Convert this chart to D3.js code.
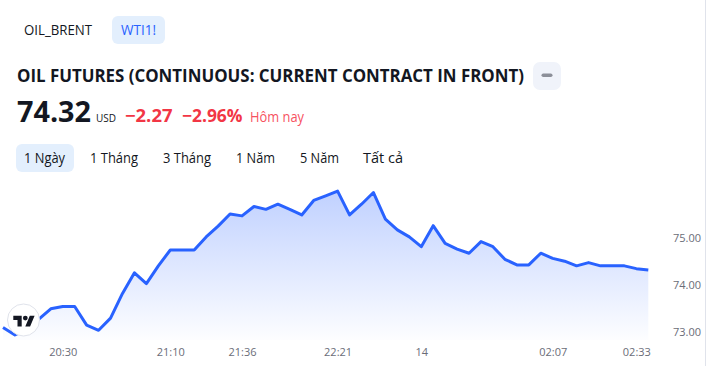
<!DOCTYPE html>
<html>
<head>
<meta charset="utf-8">
<script src="https://cdn.jsdelivr.net/npm/d3@7/dist/d3.min.js"></script>
<style>
  html, body { margin: 0; padding: 0; background: #ffffff; }
  svg { display: block; }
  text { font-family: "Open Sans", "Noto Sans", sans-serif; }
</style>
</head>
<body>
<svg id="chart" width="708" height="366"></svg>
<script>
// ---- data ----
const symbolTabs = ["OIL_BRENT", "WTI1!"];
const activeTab = 1;
const title = "OIL FUTURES (CONTINUOUS: CURRENT CONTRACT IN FRONT)";
const lastPrice = "74.32";
const currency = "USD";
const change = "\u22122.27";
const changePct = "\u22122.96%";
const periodLabel = "Hôm nay";
const ranges = ["1 Ngày", "1 Tháng", "3 Tháng", "1 Năm", "5 Năm", "Tất cả"];
const activeRange = 0;

const prices = [
  73.09, 72.93, 73.05, 73.27, 73.49, 73.54, 73.54, 73.14, 73.03, 73.29,
  73.82, 74.26, 74.03, 74.41, 74.75, 74.75, 74.75, 75.03, 75.26, 75.52,
  75.48, 75.68, 75.62, 75.73, 75.62, 75.50, 75.81, 75.91, 76.01, 75.50,
  75.73, 75.98, 75.41, 75.18, 75.03, 74.82, 75.27, 74.89, 74.77, 74.68,
  74.93, 74.82, 74.55, 74.43, 74.43, 74.68, 74.57, 74.51, 74.41, 74.48,
  74.41, 74.41, 74.41, 74.35, 74.32
];
const xTickIndex = [5, 14, 20, 28, 35, 46, 53];
const xTickLabels = ["20:30", "21:10", "21:36", "22:21", "14", "02:07", "02:33"];
const yTicks = [73, 74, 75];

// ---- drawing ----
const svg = d3.select("#chart");

// right border line
svg.append("line").attr("x1", 705.5).attr("x2", 705.5).attr("y1", 0).attr("y2", 366)
  .attr("stroke", "#e0e3eb").attr("stroke-width", 1);

// symbol tabs
const tabBox = [{x: 16, w: 84}, {x: 112, w: 53}];
const tabText = [{x: 24, w: 68}, {x: 121, w: 35}];
symbolTabs.forEach((t, i) => {
  if (i === activeTab) {
    svg.append("rect").attr("x", tabBox[i].x).attr("y", 16).attr("width", tabBox[i].w).attr("height", 28)
      .attr("rx", 6).attr("fill", "#e3effd");
  }
  svg.append("text").attr("x", tabText[i].x).attr("y", 35)
    .attr("font-size", 14).attr("fill", i === activeTab ? "#2962ff" : "#131722")
    .attr("textLength", tabText[i].w).attr("lengthAdjust", "spacingAndGlyphs").text(t);
});

// title
svg.append("text").attr("x", 17).attr("y", 82)
  .attr("font-size", 18).attr("font-weight", 700).attr("fill", "#131722")
  .attr("textLength", 507).attr("lengthAdjust", "spacingAndGlyphs").text(title);

// minus button
svg.append("rect").attr("x", 533).attr("y", 62).attr("width", 28).attr("height", 28)
  .attr("rx", 7).attr("fill", "#f0f3fa");
svg.append("rect").attr("x", 541.5).attr("y", 73.5).attr("width", 11).attr("height", 3.5)
  .attr("rx", 1.75).attr("fill", "#8c8f99");

// price line
svg.append("text").attr("x", 17).attr("y", 122)
  .attr("font-size", 29).attr("font-weight", 700).attr("fill", "#131722")
  .attr("textLength", 74).attr("lengthAdjust", "spacingAndGlyphs").text(lastPrice);
svg.append("text").attr("x", 96).attr("y", 122)
  .attr("font-size", 10).attr("fill", "#131722").text(currency);
svg.append("text").attr("x", 125).attr("y", 122)
  .attr("font-size", 18).attr("font-weight", 700).attr("fill", "#f23645")
  .attr("textLength", 47.5).attr("lengthAdjust", "spacingAndGlyphs").text(change);
svg.append("text").attr("x", 182).attr("y", 122)
  .attr("font-size", 18).attr("font-weight", 700).attr("fill", "#f23645")
  .attr("textLength", 60.5).attr("lengthAdjust", "spacingAndGlyphs").text(changePct);
svg.append("text").attr("x", 250).attr("y", 122)
  .attr("font-size", 14).attr("fill", "#f7525f")
  .attr("textLength", 54).attr("lengthAdjust", "spacingAndGlyphs").text(periodLabel);

// range buttons
const rangeX = [24, 90, 163, 236, 300, 363];
const rangeW = [41, 48, 48, 39, 39, 40];
ranges.forEach((r, i) => {
  if (i === activeRange) {
    svg.append("rect").attr("x", 16).attr("y", 144).attr("width", 58).attr("height", 28)
      .attr("rx", 6).attr("fill", "#e3effd");
  }
  svg.append("text").attr("x", rangeX[i]).attr("y", 163)
    .attr("font-size", 14).attr("fill", "#131722")
    .attr("textLength", rangeW[i]).attr("lengthAdjust", "spacingAndGlyphs").text(r);
});

// scales
const x = d3.scaleLinear().domain([0, prices.length - 1]).range([3, 648.3]);
const y = d3.scaleLinear().domain([73, 76]).range([331.7, 191.6]);

// gradient
const defs = svg.append("defs");
const grad = defs.append("linearGradient").attr("id", "areaGrad")
  .attr("gradientUnits", "userSpaceOnUse").attr("x1", 0).attr("x2", 0).attr("y1", 188).attr("y2", 340);
grad.append("stop").attr("offset", 0).attr("stop-color", "#2962ff").attr("stop-opacity", 0.3);
grad.append("stop").attr("offset", 1).attr("stop-color", "#2962ff").attr("stop-opacity", 0.01);

const area = d3.area().x((d, i) => x(i)).y0(340).y1(d => y(d));
svg.append("path").datum(prices).attr("d", area).attr("fill", "url(#areaGrad)");

const line = d3.line().x((d, i) => x(i)).y(d => y(d));
svg.append("path").datum(prices).attr("d", line)
  .attr("fill", "none").attr("stroke", "#2962ff").attr("stroke-width", 3)
  .attr("stroke-linejoin", "round").attr("stroke-linecap", "butt");

// y axis (right)
const yAxis = svg.append("g").attr("transform", "translate(668,0)")
  .call(d3.axisRight(y).tickValues(yTicks).tickFormat(d3.format(".2f")).tickSize(0).tickPadding(5));
yAxis.select(".domain").remove();
yAxis.selectAll("text").attr("font-size", 11).attr("fill", "#6a6d78")
  .attr("font-family", "\"Open Sans\", sans-serif");

// x axis
const xAxis = svg.append("g").attr("transform", "translate(0,344)")
  .call(d3.axisBottom(x).tickValues(xTickIndex).tickFormat((d, i) => xTickLabels[i]).tickSize(0).tickPadding(4));
xAxis.select(".domain").remove();
xAxis.selectAll("text").attr("font-size", 11).attr("fill", "#6a6d78")
  .attr("font-family", "\"Open Sans\", sans-serif");

// TradingView logo badge
svg.append("circle").attr("cx", 23.5).attr("cy", 320).attr("r", 16)
  .attr("fill", "#ffffff").attr("stroke", "#e0e3eb").attr("stroke-width", 1);
const logo = svg.append("g").attr("transform", "translate(13.3,313.3) scale(0.6)");
logo.append("path").attr("d", "M14 22H7V11H0V4h14v18zM28 22h-8l7.5-18h8L28 22z").attr("fill", "#131722");
logo.append("circle").attr("cx", 20).attr("cy", 8).attr("r", 4).attr("fill", "#131722");
</script>
</body>
</html>
